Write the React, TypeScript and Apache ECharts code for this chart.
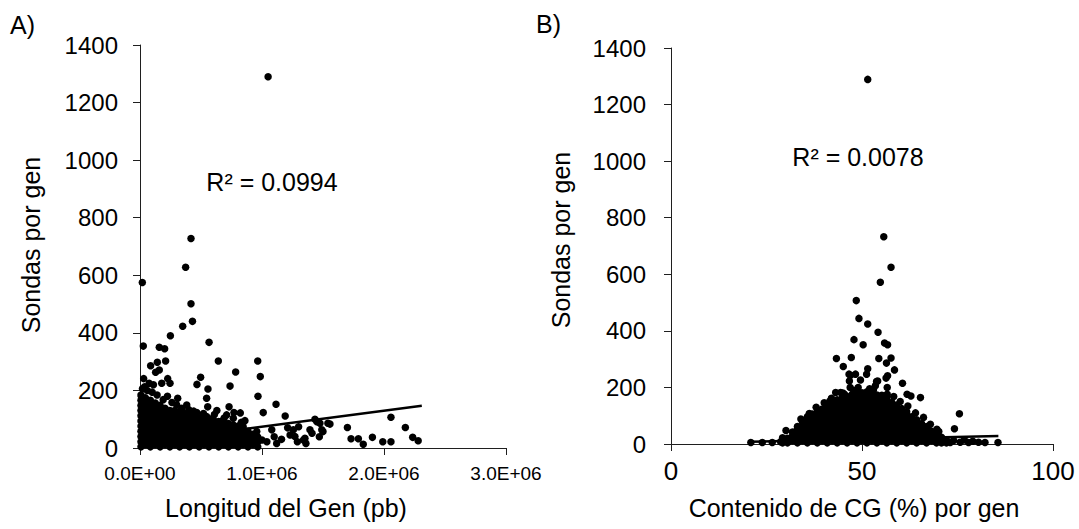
import React, { useEffect, useRef } from "react";
import * as echarts from "echarts";

// ---------- Panel A: Longitud del Gen (pb) vs Sondas por gen ----------
// dense core of the cloud: [x, list of y values]
const blobA: [number, number[]][] = [
  [8000, [4, 22, 40, 58, 76, 94, 112, 130, 148, 166, 184]],
  [45000, [12, 30, 48, 66, 84, 102, 120, 138, 156, 174]],
  [85000, [4, 22, 40, 58, 76, 94, 112, 130, 148, 166]],
  [125000, [12, 30, 48, 66, 84, 102, 120, 138, 156]],
  [165000, [4, 22, 40, 58, 76, 94, 112, 130, 148]],
  [205000, [12, 30, 48, 66, 84, 102, 120, 138]],
  [245000, [4, 22, 40, 58, 76, 94, 112, 130]],
  [285000, [12, 30, 48, 66, 84, 102, 120, 130]],
  [325000, [4, 22, 40, 58, 76, 94, 112, 125]],
  [365000, [12, 30, 48, 66, 84, 102, 120]],
  [405000, [4, 22, 40, 58, 76, 94, 112]],
  [445000, [12, 30, 48, 66, 84, 102, 110]],
  [485000, [4, 22, 40, 58, 76, 94, 105]],
  [525000, [12, 30, 48, 66, 84, 102]],
  [565000, [4, 22, 40, 58, 76, 94, 100]],
  [605000, [12, 30, 48, 66, 84, 95]],
  [645000, [4, 22, 40, 58, 76, 92]],
  [685000, [12, 30, 48, 66, 84]],
  [725000, [4, 22, 40, 58, 76, 85]],
  [765000, [12, 30, 48, 66, 80]],
  [805000, [4, 22, 40, 58, 76]],
  [845000, [12, 30, 48, 66, 75]],
  [885000, [4, 22, 40, 58]],
  [925000, [12, 30, 48]],
  [965000, [4, 22, 38]],
];

const sparseA: [number, number][] = [
  [1050000, 1290], [418000, 728], [374000, 628], [19000, 575], [418000, 501],
  [430000, 440], [350000, 423], [249000, 390], [27000, 354], [158000, 350],
  [202000, 345], [566000, 367], [642000, 302], [965000, 302], [986000, 248],
  [967000, 180], [784000, 264], [738000, 215], [497000, 246], [467000, 221],
  [557000, 205], [546000, 173], [555000, 143], [87000, 286], [142000, 298],
  [210000, 302], [128000, 263], [158000, 271], [30000, 241], [38000, 213],
  [227000, 241], [246000, 225], [110000, 220], [178000, 225], [12000, 178],
  [309000, 173], [1010000, 123], [1115000, 152], [1190000, 111], [730000, 143],
  [630000, 130], [822000, 122], [770000, 123], [830000, 89], [465000, 123],
  [383000, 149], [342000, 138], [710000, 115], [765000, 103], [683000, 97],
  [547000, 109], [596000, 103],
  [1434000, 100], [1557000, 83], [1475000, 86], [1490000, 63], [1470000, 39],
  [1393000, 63], [1410000, 51], [1352000, 34], [1360000, 16], [1340000, 28],
  [1290000, 22], [1257000, 63], [1300000, 74], [1700000, 71], [1730000, 32],
  [1790000, 32], [1830000, 13], [1905000, 37], [1990000, 22], [2057000, 22],
  [2057000, 107], [2175000, 71], [2235000, 37], [2280000, 25],
  [1000000, 28], [1080000, 63], [1120000, 16], [1230000, 45], [1450000, 91],
  [1500000, 57], [1540000, 86], [957000, 57], [900000, 45], [875000, 28],
  [1040000, 22], [1100000, 39], [1160000, 30], [1210000, 70], [1270000, 40],
  [60000, 200], [100000, 194], [20000, 206], [140000, 184], [190000, 168],
  [262000, 158], [300000, 150], [400000, 133], [520000, 120], [610000, 116],
  [690000, 104], [860000, 95], [75000, 225], [225000, 180], [440000, 128],
];

const trendA: [number, number][] = [
  [0, 18],
  [2310000, 147],
];

// ---------- Panel B: Contenido de CG (%) vs Sondas por gen ----------
const blobB: [number, number[]][] = [
  [29.2, [4, 12]],
  [30.5, [4, 20]],
  [31.8, [12, 28, 42]],
  [33.1, [4, 20, 37, 54, 62]],
  [34.4, [12, 28, 45, 62, 79]],
  [35.7, [4, 20, 37, 54, 71, 88, 96]],
  [37.0, [12, 28, 45, 62, 79, 96, 106]],
  [38.3, [4, 20, 37, 54, 71, 88, 105, 113]],
  [39.6, [12, 28, 45, 62, 79, 96, 113, 124]],
  [40.9, [4, 20, 37, 54, 71, 88, 105, 122, 136]],
  [42.2, [12, 28, 45, 62, 79, 96, 113, 130, 147]],
  [43.5, [4, 20, 37, 54, 71, 88, 105, 122, 139, 156]],
  [44.8, [12, 28, 45, 62, 79, 96, 113, 130, 147, 162]],
  [46.1, [4, 20, 37, 54, 71, 88, 105, 122, 139, 156, 168]],
  [47.4, [12, 28, 45, 62, 79, 96, 113, 130, 147, 164, 175]],
  [48.7, [4, 20, 37, 54, 71, 88, 105, 122, 139, 156, 173, 182]],
  [50.0, [12, 28, 45, 62, 79, 96, 113, 130, 147, 164, 181]],
  [51.3, [4, 20, 37, 54, 71, 88, 105, 122, 139, 156, 173, 185]],
  [52.6, [12, 28, 45, 62, 79, 96, 113, 130, 147, 164, 178]],
  [53.9, [4, 20, 37, 54, 71, 88, 105, 122, 139, 156, 173]],
  [55.2, [12, 28, 45, 62, 79, 96, 113, 130, 147, 164, 172]],
  [56.5, [4, 20, 37, 54, 71, 88, 105, 122, 139, 156, 165]],
  [57.8, [12, 28, 45, 62, 79, 96, 113, 130, 147]],
  [59.1, [4, 20, 37, 54, 71, 88, 105, 122, 138]],
  [60.4, [12, 28, 45, 62, 79, 96, 113, 125]],
  [61.7, [4, 20, 37, 54, 71, 88, 105, 114]],
  [63.0, [12, 28, 45, 62, 79, 96]],
  [64.3, [4, 20, 37, 54, 71, 86]],
  [65.6, [12, 28, 45, 62, 72]],
  [66.9, [4, 20, 37, 54, 62]],
  [68.2, [12, 28, 45]],
  [69.5, [4, 20, 35]],
  [70.8, [4, 14, 24]],
  [72.1, [4, 14]],
];

const sparseB: [number, number][] = [
  [51.5, 1289], [55.7, 733], [57.6, 625], [54.8, 572], [48.5, 507],
  [49.2, 444], [51.5, 424], [54.2, 395], [47.9, 369], [50.3, 351],
  [55.9, 357], [56.7, 351], [43.3, 302], [47.2, 306], [45.1, 274],
  [54.4, 302], [57.6, 304], [56.4, 286], [51.5, 266], [58.5, 262],
  [46.6, 247], [48.3, 247], [51.2, 247], [56.7, 241], [46.7, 223],
  [49.6, 226], [54.1, 223], [60.6, 215], [46.9, 200], [53.5, 206],
  [43.1, 182], [44.4, 182], [45.4, 176], [56.6, 200], [56.6, 176],
  [61.8, 176], [62.8, 170], [65.3, 164], [41.6, 152], [47.0, 243],
  [53.8, 221], [56.3, 233], [52.0, 195], [49.0, 200], [75.5, 107],
  [74.2, 54], [30.1, 48], [85.6, 5], [20.9, 5], [23.9, 5], [26.5, 5],
  [28.7, 8], [29.2, 22], [69.6, 52], [70.9, 6], [73.1, 5], [75.7, 6],
  [77.9, 5], [80.5, 6], [82.2, 5], [74.0, 12], [76.8, 14], [79.0, 10],
  [38.0, 130], [40.1, 146], [42.0, 162], [45.0, 180], [58.3, 168],
  [60.0, 150], [62.0, 134], [64.0, 110], [66.1, 94], [67.9, 70],
  [70.1, 44], [36.2, 108], [34.0, 88], [53.0, 192], [47.8, 190],
];

const trendB: [number, number][] = [
  [20.5, 8],
  [85.7, 28],
];

const yTickMax = 1400;
const yTickStep = 200;

const FONT = "'Liberation Sans', Arial, sans-serif";
const INK = "#000000";
const AXIS = "#1f1f1f";

function flatten(blob: [number, number[]][], sparse: [number, number][]) {
  const out: [number, number][] = [];
  blob.forEach(([x, ys]) => ys.forEach((y) => out.push([x, y])));
  sparse.forEach((p) => out.push(p));
  return out;
}

function sci(v: number) {
  if (v === 0) return "0.0E+00";
  const e = Math.floor(Math.log10(v));
  const m = v / Math.pow(10, e);
  return `${m.toFixed(1)}E+${String(e).padStart(2, "0")}`;
}

export default function App() {
  const ref = useRef<HTMLDivElement>(null);

  useEffect(() => {
    if (!ref.current) return;
    const chart = echarts.init(ref.current, null, { renderer: "svg" });

    const yAxisBase = (idx: number) => ({
      type: "value" as const,
      gridIndex: idx,
      min: 0,
      max: yTickMax,
      interval: yTickStep,
      splitLine: { show: false },
      axisLine: { show: true, lineStyle: { color: AXIS, width: 1 } },
      axisTick: { show: true, inside: false, length: 7, lineStyle: { color: AXIS } },
      axisLabel: {
        margin: idx === 0 ? 22 : 25,
        color: INK,
        fontSize: 24,
        fontFamily: FONT,
        formatter: (v: number) => String(v),
      },
    });

    const dotStyle = { color: INK, opacity: 1, borderWidth: 0 };

    chart.setOption({
      animation: false,
      backgroundColor: "#ffffff",
      grid: [
        { left: 140, top: 45, width: 366, height: 403 },
        { left: 671, top: 48, width: 382, height: 396 },
      ],
      xAxis: [
        {
          type: "value",
          gridIndex: 0,
          min: 0,
          max: 3000000,
          interval: 1000000,
          splitLine: { show: false },
          axisLine: { show: true, onZero: false, lineStyle: { color: AXIS, width: 1 } },
          axisTick: { show: true, length: 7, lineStyle: { color: AXIS } },
          axisLabel: {
            margin: 16,
            color: INK,
            fontSize: 19,
            fontFamily: FONT,
            formatter: (v: number) => sci(v),
          },
        },
        {
          type: "value",
          gridIndex: 1,
          min: 0,
          max: 100,
          interval: 50,
          splitLine: { show: false },
          axisLine: { show: true, onZero: false, lineStyle: { color: AXIS, width: 1 } },
          axisTick: { show: true, length: 7, lineStyle: { color: AXIS } },
          axisLabel: {
            margin: 14,
            color: INK,
            fontSize: 26,
            fontFamily: FONT,
          },
        },
      ],
      yAxis: [yAxisBase(0), yAxisBase(1)],
      graphic: [
        {
          type: "text",
          left: 10,
          top: 12,
          style: { text: "A)", fontSize: 25, fontFamily: FONT, fill: INK },
        },
        {
          type: "text",
          left: 536,
          top: 11,
          style: { text: "B)", fontSize: 25, fontFamily: FONT, fill: INK },
        },
        {
          type: "text",
          x: 31,
          y: 245,
          rotation: Math.PI / 2,
          style: {
            text: "Sondas por gen",
            fontSize: 25,
            fontFamily: FONT,
            fill: INK,
            align: "center",
            verticalAlign: "middle",
          },
        },
        {
          type: "text",
          x: 561,
          y: 240,
          rotation: Math.PI / 2,
          style: {
            text: "Sondas por gen",
            fontSize: 25,
            fontFamily: FONT,
            fill: INK,
            align: "center",
            verticalAlign: "middle",
          },
        },
        {
          type: "text",
          x: 286,
          y: 508,
          style: {
            text: "Longitud del Gen (pb)",
            fontSize: 25,
            fontFamily: FONT,
            fill: INK,
            align: "center",
            verticalAlign: "middle",
          },
        },
        {
          type: "text",
          x: 854,
          y: 508,
          style: {
            text: "Contenido de CG (%) por gen",
            fontSize: 25,
            fontFamily: FONT,
            fill: INK,
            align: "center",
            verticalAlign: "middle",
          },
        },
        {
          type: "text",
          x: 272,
          y: 182,
          style: {
            text: "R² = 0.0994",
            fontSize: 25,
            fontFamily: FONT,
            fill: INK,
            align: "center",
            verticalAlign: "middle",
          },
        },
        {
          type: "text",
          x: 858,
          y: 157,
          style: {
            text: "R² = 0.0078",
            fontSize: 25,
            fontFamily: FONT,
            fill: INK,
            align: "center",
            verticalAlign: "middle",
          },
        },
      ],
      series: [
        {
          type: "scatter",
          xAxisIndex: 0,
          yAxisIndex: 0,
          data: flatten(blobA, sparseA),
          symbol: "circle",
          symbolSize: 7.5,
          itemStyle: dotStyle,
          z: 2,
        },
        {
          type: "line",
          xAxisIndex: 0,
          yAxisIndex: 0,
          data: trendA,
          symbol: "none",
          lineStyle: { color: INK, width: 2.5 },
          z: 3,
        },
        {
          type: "scatter",
          xAxisIndex: 1,
          yAxisIndex: 1,
          data: flatten(blobB, sparseB),
          symbol: "circle",
          symbolSize: 7.5,
          itemStyle: dotStyle,
          z: 2,
        },
        {
          type: "line",
          xAxisIndex: 1,
          yAxisIndex: 1,
          data: trendB,
          symbol: "none",
          lineStyle: { color: INK, width: 2.5 },
          z: 3,
        },
      ],
    });

    return () => chart.dispose();
  }, []);

  return (
    <div
      ref={ref}
      style={{ position: "fixed", left: 0, top: 0, width: 1079, height: 529, background: "#fff" }}
    />
  );
}
